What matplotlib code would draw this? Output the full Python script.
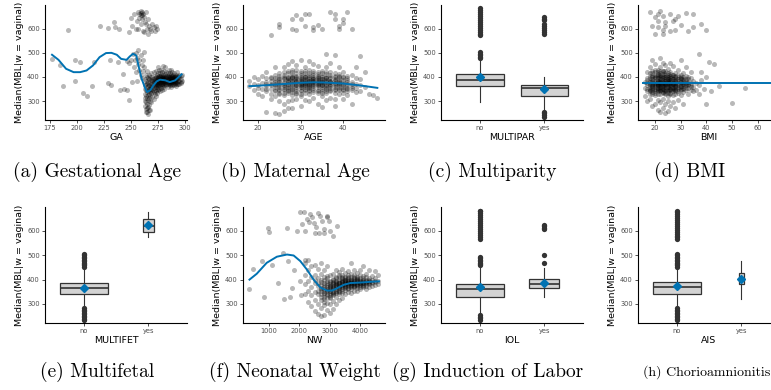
import matplotlib.pyplot as plt
import numpy as np

# ---- values ----
y_ticks = [300, 400, 500, 600]
blue = '#0072B2'

# (a) gestational age: scattered points, dense cloud (per day), smooth fit
ga_sparse = [(177, 475), (184, 448), (187, 362), (192, 596), (198, 471), (203, 462),
             (198, 384), (206, 334), (209, 320), (214, 362), (216, 462), (221, 611),
             (229, 601), (234, 626), (229, 375), (232, 366), (231, 471), (235, 608),
             (239, 599), (238, 462), (240, 345), (243, 411), (246, 345), (248, 304),
             (246, 466), (251, 378), (244, 352),
             (248, 585), (250, 644), (251, 612), (253, 660), (255, 599), (257, 667),
             (258, 644), (258, 660), (259, 672), (259, 655), (260, 668), (260, 640),
             (261, 592), (261, 660), (262, 650), (263, 628), (264, 619), (265, 600),
             (266, 578), (266, 640), (267, 610), (268, 599), (269, 590), (270, 619),
             (271, 605), (272, 592), (273, 612), (274, 600), (256, 630), (262, 585),
             (257, 600), (264, 670), (259, 620), (259, 664), (260, 655),
             (252, 495), (254, 470), (255, 500), (256, 480), (257, 455), (257, 510),
             (258, 430), (258, 470), (259, 490), (259, 410), (260, 450), (260, 395),
             (261, 470), (261, 425), (262, 440), (262, 505), (255, 420), (253, 440),
             (256, 385), (250, 472), (248, 460)]
ga_cloud = {
    263: [330, 365, 392, 350, 300, 280, 315],
    264: [345, 372, 410, 320, 268, 298, 385, 255],
    265: [358, 338, 400, 312, 255, 290, 375, 425, 270],
    266: [342, 380, 362, 305, 275, 248, 395, 325],
    267: [368, 352, 392, 330, 285, 315, 410, 262],
    268: [340, 378, 360, 398, 300, 322, 265, 350],
    269: [372, 350, 388, 415, 332, 295, 362],
    270: [360, 382, 345, 402, 318, 372, 338, 392],
    271: [375, 392, 355, 420, 338, 308, 365, 385],
    272: [368, 385, 348, 405, 330, 395, 358, 378],
    273: [378, 360, 398, 342, 425, 320, 388, 370],
    274: [388, 365, 372, 410, 350, 335, 395, 380],
    275: [380, 395, 358, 418, 368, 345, 440, 388, 402],
    276: [372, 388, 405, 352, 428, 365, 395, 380],
    277: [385, 398, 362, 375, 415, 340, 392, 405],
    278: [392, 370, 408, 382, 355, 430, 398, 378, 388],
    279: [378, 395, 365, 420, 388, 348, 402, 372],
    280: [385, 402, 372, 410, 360, 392, 445, 380, 395],
    281: [390, 375, 405, 368, 425, 352, 395, 382],
    282: [382, 398, 412, 370, 388, 440, 378, 392],
    283: [395, 378, 405, 365, 420, 385, 398, 372],
    284: [388, 372, 400, 358, 415, 392, 380, 405],
    285: [380, 395, 410, 370, 388, 428, 398, 375],
    286: [392, 375, 402, 365, 418, 385, 395, 380],
    287: [385, 398, 372, 408, 360, 430, 390, 378],
    288: [390, 378, 405, 368, 395, 420, 385, 398],
    289: [382, 395, 372, 410, 388, 398, 378],
    290: [388, 375, 402, 365, 395, 415, 382],
    291: [380, 392, 370, 405, 385, 398],
    292: [385, 398, 375, 410, 362, 390],
    293: [390, 378, 402, 372, 420],
    294: [382, 395, 370, 405],
    295: [385, 372, 398, 410],
    296: [380, 392, 375, 405],
    297: [410, 385],
}
ga_fit_x = [177, 183, 190, 197, 203, 209, 215, 221, 227, 232, 237, 241, 246, 249, 252,
            255, 257, 260, 263, 265, 268, 271, 274, 277, 282, 286, 291, 295, 297]
ga_fit_y = [492, 471, 434, 420, 420, 427, 448, 482, 499, 500, 492, 475, 471, 485, 496,
            489, 448, 393, 356, 338, 345, 366, 382, 389, 386, 379, 386, 403, 411]

# (b) maternal age (per year)
age_cloud = {
    18: [362, 385],
    19: [345, 372, 400],
    20: [355, 330, 390, 368],
    21: [322, 375, 350, 405],
    22: [255, 340, 380, 362, 395, 420, 370, 350],
    23: [575, 330, 372, 350, 400, 310, 385, 365, 395],
    24: [250, 365, 340, 388, 410, 320, 440, 372, 395, 358, 380, 348],
    25: [620, 605, 248, 378, 352, 395, 335, 415, 300, 365, 385, 372, 405, 345, 390, 360,
         330],
    26: [260, 368, 390, 345, 410, 325, 375, 440, 290, 380, 398, 358, 365, 420, 335, 395,
         352],
    27: [372, 395, 355, 415, 335, 382, 455, 300, 270, 365, 388, 345, 402, 378, 360, 425,
         340, 395],
    28: [598, 640, 270, 378, 360, 400, 345, 420, 325, 388, 465, 305, 372, 395, 352, 410,
         385, 338, 365, 430, 398],
    29: [655, 595, 385, 365, 405, 350, 428, 330, 372, 395, 310, 450, 378, 358, 392, 342,
         415, 368, 385, 335, 402],
    30: [640, 280, 375, 392, 358, 410, 340, 380, 425, 320, 470, 365, 385, 368, 402, 348,
         372, 395, 360, 415, 330, 388],
    31: [660, 610, 382, 368, 398, 352, 415, 335, 388, 440, 305, 372, 375, 392, 360, 405,
         345, 380, 365, 425, 398],
    32: [660, 465, 378, 362, 395, 345, 410, 328, 385, 430, 372, 300, 385, 368, 402, 355,
         375, 392, 340, 418, 360],
    33: [605, 595, 385, 370, 400, 355, 418, 338, 392, 455, 315, 375, 378, 362, 395, 348,
         410, 382, 368, 425, 392],
    34: [615, 380, 365, 398, 348, 412, 332, 388, 445, 375, 290, 372, 390, 358, 405, 342,
         385, 365, 420, 395],
    35: [598, 275, 372, 390, 358, 405, 342, 380, 425, 320, 365, 385, 368, 400, 352, 378,
         392, 335, 415],
    36: [495, 378, 362, 395, 350, 412, 335, 385, 440, 305, 372, 388, 355, 402, 368, 340,
         395, 420],
    37: [668, 370, 385, 355, 402, 340, 420, 378, 315, 460, 378, 362, 395, 348, 410, 385,
         368],
    38: [660, 640, 490, 278, 368, 382, 352, 398, 335, 415, 310, 375, 392, 360, 405, 345,
         388, 370],
    39: [600, 610, 372, 358, 390, 345, 405, 330, 440, 375, 380, 365, 398, 350, 412, 385],
    40: [625, 640, 365, 380, 350, 398, 335, 420, 310, 372, 388, 358, 402, 345],
    41: [670, 370, 355, 388, 340, 405, 325, 378, 362, 395, 350],
    42: [600, 290, 362, 380, 345, 410, 372, 355],
    43: [440, 355, 372, 338, 395],
    44: [485, 340, 368, 390],
    45: [360, 420],
    46: [330],
    47: [325],
    48: [315],
}
age_fit_x = [18, 22, 26, 30, 33, 36, 40, 44, 48]
age_fit_y = [362, 366, 371, 376, 378, 377, 373, 365, 355]

# (c) multiparity
multipar_cats = ['no', 'yes']
multipar_q1 = [364, 321]
multipar_med = [386, 353]
multipar_q3 = [412, 368]
multipar_lo = [297, 263]
multipar_hi = [474, 400]
multipar_mean = [399, 349]
multipar_width = [0.75, 0.72]
multipar_out = [[478, 484, 490, 496, 502, 572, 580, 588, 596, 604, 612, 620, 628, 636,
                 644, 652, 660, 668, 676, 684],
                [236, 243, 250, 256, 578, 586, 594, 602, 610, 618, 634, 641, 647]]

# (d) BMI (per unit)
bmi_cloud = {
    16: [380, 320, 355],
    17: [395, 340, 365, 300, 420, 375, 352, 388],
    18: [372, 345, 405, 310, 385, 440, 667, 360, 395, 330, 378, 352, 415, 340, 368],
    19: [362, 390, 330, 415, 350, 280, 470, 612, 372, 345, 398, 365, 380, 358, 405, 338,
         385, 425],
    20: [375, 352, 398, 325, 420, 365, 290, 455, 647, 578, 385, 340, 410, 362, 395, 372,
         348, 380, 402, 335, 358, 430],
    21: [368, 385, 340, 408, 355, 430, 305, 378, 265, 660, 605, 633, 375, 350, 395, 362,
         420, 382, 365, 345, 400, 330, 412, 372],
    22: [380, 360, 395, 345, 415, 330, 372, 440, 295, 255, 674, 478, 368, 390, 352, 405,
         385, 340, 375, 358, 398, 348, 378, 410, 365, 425],
    23: [372, 388, 350, 405, 338, 425, 362, 310, 460, 270, 653, 594, 578, 380, 358, 395,
         345, 412, 368, 385, 352, 402, 375, 335, 425],
    24: [365, 382, 345, 400, 328, 418, 372, 290, 448, 250, 626, 612, 375, 358, 392, 340,
         410, 370, 385, 352, 398, 365, 425, 335],
    25: [375, 358, 392, 340, 410, 322, 385, 435, 300, 260, 368, 390, 350, 402, 378, 372,
         382, 345, 398, 360, 415, 335],
    26: [368, 385, 350, 402, 335, 420, 375, 280, 460, 660, 589, 380, 358, 395, 345, 372,
         388, 352, 405, 365, 330, 412],
    27: [372, 355, 390, 340, 408, 325, 445, 295, 630, 365, 382, 350, 398, 375, 358, 392,
         345, 410, 370],
    28: [365, 382, 348, 398, 330, 418, 270, 640, 594, 375, 358, 392, 370, 385, 352, 405,
         340, 362],
    29: [375, 358, 392, 340, 410, 430, 305, 653, 365, 385, 350, 372, 390, 355, 400, 335],
    30: [362, 380, 345, 400, 325, 470, 616, 372, 390, 378, 360, 395, 350, 410],
    31: [370, 355, 390, 338, 415, 290, 380, 362, 372, 388, 350, 400],
    32: [365, 382, 348, 405, 440, 663, 375, 368, 390, 355],
    33: [372, 355, 390, 330, 592, 380, 365, 400],
    34: [368, 345, 395, 420, 375, 358],
    35: [360, 385, 340, 605, 660],
    36: [348, 375],
    37: [496, 365, 330],
    38: [386, 420, 619],
    39: [350],
    40: [400, 290, 594],
    41: [462],
    42: [342],
    43: [455],
    45: [362],
    50: [293],
    55: [355],
}
bmi_fit_x = [15.5, 70]
bmi_fit_y = [375, 375]

# (e) multifetal
multifet_cats = ['no', 'yes']
multifet_q1 = [340, 597]
multifet_med = [365, 618]
multifet_q3 = [386, 648]
multifet_lo = [285, 575]
multifet_hi = [448, 679]
multifet_mean = [365, 623]
multifet_width = [0.75, 0.165]
multifet_out = [[234, 240, 246, 252, 258, 264, 270, 276, 282, 452, 458, 464, 470, 476,
                 482, 488, 494, 500, 506], []]

# (f) neonatal weight
nw_sparse = [(347, 361), (480, 445), (757, 476), (834, 330), (978, 610), (989, 597),
             (1089, 462), (1277, 386), (1454, 510), (1498, 319), (1587, 610), (1609, 476),
             (1919, 600), (1830, 441), (2007, 676), (2140, 676), (2196, 600), (2085, 628),
             (2196, 482), (2030, 393), (2052, 337), (2250, 648), (2306, 635), (2417, 655),
             (2472, 632), (2561, 614), (2638, 593), (2694, 662), (2749, 641), (2804, 607),
             (2915, 662), (2970, 641), (3026, 600), (3114, 579), (3247, 621), (2527, 593),
             (2827, 593), (1753, 365), (1697, 330), (2900, 655), (2600, 672), (2350, 668)]
nw_cloud = {
    2200: [420, 380, 340, 470],
    2300: [395, 355, 440, 310, 480],
    2400: [410, 370, 335, 455, 290],
    2500: [385, 350, 420, 315, 460, 270, 400],
    2600: [372, 340, 405, 300, 445, 260, 385, 355],
    2700: [365, 330, 398, 355, 425, 285, 250, 470, 340, 378, 360, 392, 318],
    2800: [378, 345, 362, 410, 320, 440, 295, 255, 352, 385, 330, 370, 398, 340, 308],
    2900: [370, 352, 388, 335, 415, 305, 275, 455, 362, 342, 395, 378, 325, 405, 358],
    3000: [375, 345, 360, 395, 325, 420, 300, 265, 380, 352, 368, 338, 390, 355, 372,
           330],
    3100: [368, 385, 350, 402, 335, 425, 312, 280, 360, 375, 345, 392, 365, 380, 340,
           398],
    3200: [380, 362, 395, 348, 410, 330, 440, 300, 372, 388, 355, 368, 378, 390, 345,
           405],
    3300: [385, 370, 400, 355, 418, 340, 430, 318, 378, 392, 362, 375, 388, 365, 410,
           350],
    3400: [390, 375, 405, 360, 420, 345, 392, 325, 445, 382, 368, 398, 378, 395, 355,
           412],
    3500: [385, 400, 372, 412, 358, 428, 340, 395, 378, 390, 365, 405, 382, 398, 368],
    3600: [392, 378, 405, 365, 418, 350, 435, 385, 398, 372, 410, 388, 380, 395, 360],
    3700: [388, 402, 375, 412, 360, 425, 345, 395, 470, 382, 392, 368, 385, 398, 378],
    3800: [395, 380, 408, 368, 420, 352, 388, 440, 400, 375, 412, 390, 385, 372],
    3900: [390, 402, 378, 412, 365, 428, 385, 355, 395, 372, 405, 382, 398],
    4000: [395, 382, 408, 370, 420, 360, 440, 388, 400, 378, 392, 385],
    4100: [392, 378, 405, 368, 415, 385, 455, 398, 372, 388, 395],
    4200: [388, 400, 375, 410, 362, 425, 392, 380, 395],
    4300: [392, 380, 405, 370, 440, 398, 385, 395],
    4400: [385, 400, 372, 415, 392],
    4500: [390, 378, 405, 435, 395],
    4600: [395, 380, 420],
}
nw_fit_x = [350, 590, 920, 1255, 1590, 1810, 2030, 2250, 2470, 2690, 2915, 3080, 3250,
            3470, 3690, 4020, 4350, 4630]
nw_fit_y = [400, 424, 469, 494, 503, 499, 476, 441, 400, 368, 355, 355, 365, 379, 386,
            388, 391, 393]

# (g) induction of labor
iol_cats = ['no', 'yes']
iol_q1 = [328, 364]
iol_med = [361, 384]
iol_q3 = [383, 404]
iol_lo = [261, 330]
iol_hi = [455, 448]
iol_mean = [369, 388]
iol_width = [0.75, 0.46]
iol_out = [[236, 242, 248, 254, 458, 464, 470, 476, 482, 488, 493, 568, 576, 584, 592,
            600, 608, 616, 624, 632, 640, 648, 656, 664, 672, 680, 683],
           [469, 499, 607, 612, 618, 624]]

# (h) chorioamnionitis
ais_cats = ['no', 'yes']
ais_q1 = [341, 382]
ais_med = [368, 400]
ais_q3 = [390, 427]
ais_lo = [285, 319]
ais_hi = [448, 476]
ais_mean = [375, 402]
ais_width = [0.75, 0.08]
ais_out = [[234, 240, 246, 252, 258, 264, 270, 276, 282, 452, 458, 464, 470, 476, 482,
            488, 494, 500, 506, 565, 573, 581, 589, 597, 605, 613, 621, 629, 637, 645,
            653, 661, 669, 677, 683], []]

captions = ['(a) Gestational Age', '(b) Maternal Age', '(c) Multiparity', '(d) BMI',
            '(e) Multifetal', '(f) Neonatal Weight', '(g) Induction of Labor',
            '(h) Chorioamnionitis']


def flatten(sparse, cloud):
    xs = [p[0] for p in sparse]
    ys = [p[1] for p in sparse]
    for k, vals in cloud.items():
        xs += [k] * len(vals)
        ys += vals
    return xs, ys


def style(ax, xlabel):
    for s in ['top', 'right']:
        ax.spines[s].set_visible(False)
    for s in ['left', 'bottom']:
        ax.spines[s].set_linewidth(0.8)
    ax.tick_params(labelsize=4.8, labelcolor='#4D4D4D', color='#333333',
                   length=2.2, width=0.6, pad=1.5)
    ax.set_ylim(222, 698)
    ax.set_yticks(y_ticks)
    ax.set_xlabel(xlabel, fontsize=6.8, labelpad=1)
    ax.set_ylabel('Median(MBL|w = vaginal)', fontsize=6.8, labelpad=2)


def scatter_panel(ax, xs, ys, fx, fy, xlabel, xlim, xticks):
    ax.scatter(xs, ys, s=13, color='black', alpha=0.28, linewidths=0)
    ax.plot(fx, fy, color=blue, lw=1.4, zorder=3)
    ax.set_xlim(*xlim)
    ax.set_xticks(xticks)
    style(ax, xlabel)


def box_panel(ax, cats, q1, med, q3, lo, hi, mean, out, widths, xlabel):
    stats = []
    for i in range(len(cats)):
        stats.append(dict(q1=q1[i], med=med[i], q3=q3[i], whislo=lo[i],
                          whishi=hi[i], fliers=out[i], label=cats[i]))
    ax.bxp(stats, positions=[1, 2], widths=widths, patch_artist=True,
           showcaps=False,
           boxprops=dict(facecolor='#D3D3D3', edgecolor='#333333', lw=0.9),
           medianprops=dict(color='#333333', lw=1.2),
           whiskerprops=dict(color='#333333', lw=0.8),
           flierprops=dict(marker='o', markerfacecolor='#333333',
                           markeredgecolor='none', markersize=3.8))
    ax.plot([1, 2], mean, ls='none', marker='D', color=blue, ms=4.3, zorder=5)
    ax.set_xlim(0.4, 2.6)
    style(ax, xlabel)


fig = plt.figure(figsize=(7.71, 3.9), dpi=100)
W, H = 771, 390
lefts = [45, 243, 441, 638]
axw = 142
rows = [(5, 120), (207, 323)]
axes = []
for top, bot in rows:
    for l in lefts:
        axes.append(fig.add_axes([l / W, 1 - bot / H, axw / W, (bot - top) / H]))

x, y = flatten(ga_sparse, ga_cloud)
scatter_panel(axes[0], x, y, ga_fit_x, ga_fit_y, 'GA', (170.5, 302), [175, 200, 225, 250, 275, 300])
x, y = flatten([], age_cloud)
scatter_panel(axes[1], x, y, age_fit_x, age_fit_y, 'AGE', (16.5, 49.8), [20, 30, 40])
box_panel(axes[2], multipar_cats, multipar_q1, multipar_med, multipar_q3, multipar_lo,
          multipar_hi, multipar_mean, multipar_out, multipar_width, 'MULTIPAR')
x, y = flatten([], bmi_cloud)
scatter_panel(axes[3], x, y, bmi_fit_x, bmi_fit_y, 'BMI', (13.4, 68.7), [20, 30, 40, 50, 60])
box_panel(axes[4], multifet_cats, multifet_q1, multifet_med, multifet_q3, multifet_lo,
          multifet_hi, multifet_mean, multifet_out, multifet_width, 'MULTIFET')
x, y = flatten(nw_sparse, nw_cloud)
scatter_panel(axes[5], x, y, nw_fit_x, nw_fit_y, 'NW', (136, 4830), [1000, 2000, 3000, 4000])
box_panel(axes[6], iol_cats, iol_q1, iol_med, iol_q3, iol_lo, iol_hi, iol_mean,
          iol_out, iol_width, 'IOL')
box_panel(axes[7], ais_cats, ais_q1, ais_med, ais_q3, ais_lo, ais_hi, ais_mean,
          ais_out, ais_width, 'AIS')

cap_x = [97, 295, 492, 690, 97, 295, 488, 643]
cap_y = [172, 172, 172, 172, 372, 372, 372, 372]
cap_size = [14, 14, 14, 14, 14, 14, 14, 10]
for i, c in enumerate(captions):
    ha = 'left' if i == 7 else 'center'
    fig.text(cap_x[i] / W, 1 - cap_y[i] / H, c, family='cmr10', fontsize=cap_size[i],
             ha=ha, va='center')

fig.savefig('out.png', dpi=100)
